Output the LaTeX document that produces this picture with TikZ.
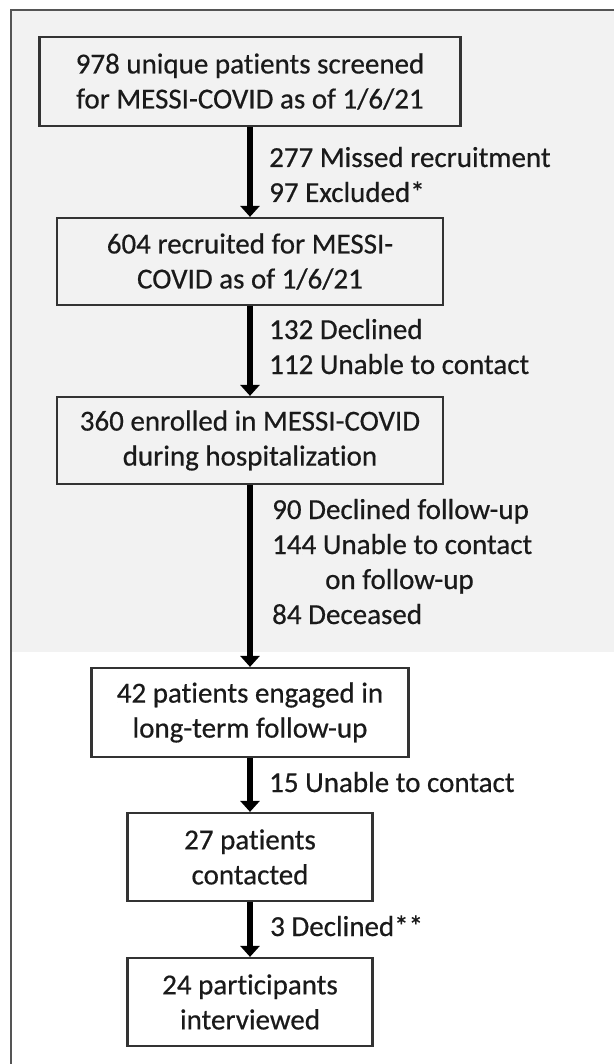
\documentclass[tikz,border=0pt]{standalone}
\usepackage{fontspec}
\setmainfont{Carlito}[Ligatures=NoCommon, FakeBold=0.5]
\usetikzlibrary{arrows.meta}
\definecolor{bggray}{HTML}{F2F2F2}
\definecolor{framegray}{HTML}{555555}
\definecolor{boxline}{HTML}{333333}
\definecolor{txt}{HTML}{1A1A1A}
\begin{document}
\begin{tikzpicture}[x=1pt,y=-1pt,
  every node/.style={font=\fontsize{29}{35}\selectfont, text=txt},
  flowbox/.style={draw=boxline, line width=2.2pt, align=center, inner sep=0pt},
  flowlabel/.style={align=left, inner sep=0pt, anchor=base west},
  flowarrow/.style={line width=6.5pt, draw=black, -{Triangle[width=19pt,length=11pt]}}
]
\path[use as bounding box, fill=white] (0,0) rectangle (614,1064);
\fill[bggray] (11,11) rectangle (614,652);
\draw[framegray, line width=2pt] (10.5,1064) -- (10.5,10.5) -- (614,10.5);

\node[flowbox, minimum width=421pt, minimum height=89pt] (b1) at (250,81.5) {978 unique patients screened\\for MESSI-COVID as of 1/6/21};
\node[flowbox, minimum width=386pt, minimum height=87pt] (b2) at (250,261.5) {604 recruited for MESSI-\\COVID as of 1/6/21};
\node[flowbox, minimum width=386pt, minimum height=87pt] (b3) at (250,440.5) {360 enrolled in MESSI-COVID\\during hospitalization};
\node[flowbox, minimum width=317pt, minimum height=89pt] (b4) at (250,712.5) {42 patients engaged in\\long-term follow-up};
\node[flowbox, minimum width=245pt, minimum height=88pt] (b5) at (250,857) {27 patients\\contacted};
\node[flowbox, minimum width=245pt, minimum height=88pt] (b6) at (250,1002) {24 participants\\interviewed};

\draw[flowarrow] (b1) -- (b2);
\draw[flowarrow] (b2) -- (b3);
\draw[flowarrow] (b3) -- (b4);
\draw[flowarrow] (b4) -- (b5);
\draw[flowarrow] (b5) -- (b6);

\node[flowlabel] (l1) at (269,202) {277 Missed recruitment\\97 Excluded*};
\node[flowlabel] (l2) at (269,374) {132 Declined\\112 Unable to contact};
\node[flowlabel] (l3) at (272,624) {90 Declined follow-up\\144 Unable to contact\\\hspace*{53pt}on follow-up\\84 Deceased};
\node[flowlabel] (l4) at (269,792) {15 Unable to contact};
\node[flowlabel] (l5) at (270,936) {3 Declined**};
\end{tikzpicture}
\end{document}
